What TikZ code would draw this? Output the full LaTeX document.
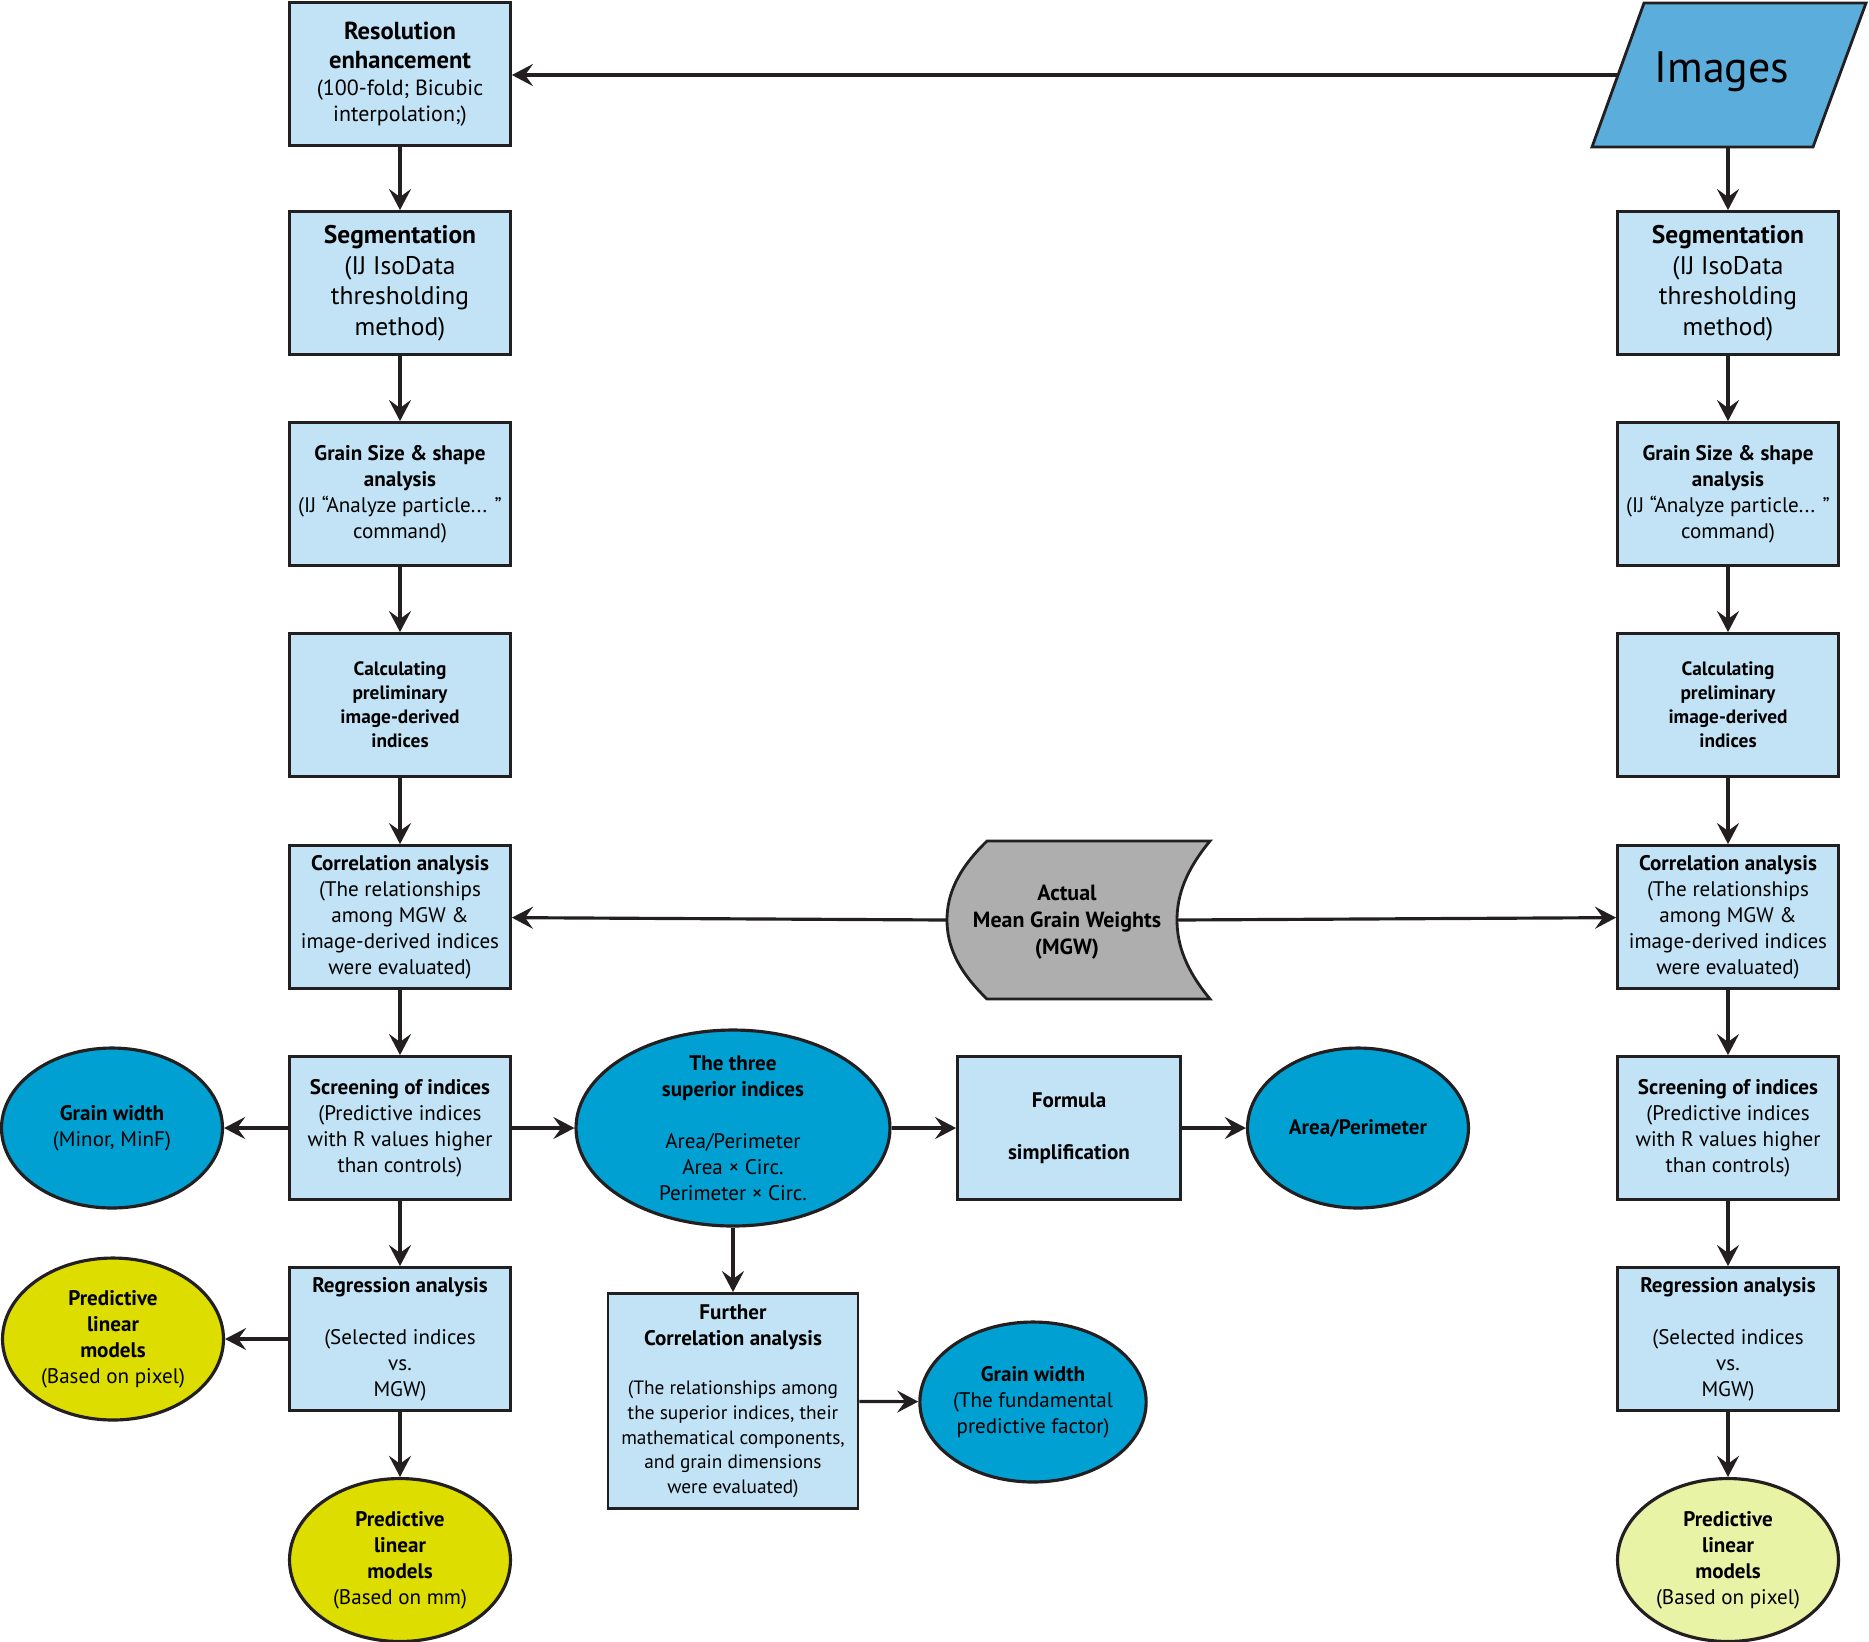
\documentclass[tikz,border=0pt]{standalone}
\usepackage{fontspec}
\setmainfont{PT Sans}
\usetikzlibrary{shapes.geometric, arrows.meta}

\definecolor{boxblue}{RGB}{193,227,245}
\definecolor{ovalblue}{RGB}{0,161,210}
\definecolor{imgblue}{RGB}{91,174,219}
\definecolor{darkyellow}{RGB}{221,221,0}
\definecolor{lightyellow}{RGB}{232,243,166}
\definecolor{mgwgray}{RGB}{174,174,174}
\definecolor{edge}{RGB}{35,31,32}

\begin{document}
\begin{tikzpicture}[x=0.02cm, y=-0.02cm,
    stepbox/.style={draw=edge, fill=boxblue, line width=1.6pt, minimum width=4.42cm, minimum height=2.86cm, align=center, inner sep=1pt, font=\fontsize{12}{14.8}\selectfont},
    oval/.style={draw=edge, ellipse, line width=1.8pt, minimum width=4.42cm, minimum height=3.2cm, align=center, inner sep=0pt, font=\fontsize{12}{14.8}\selectfont},
    blueoval/.style={oval, fill=ovalblue},
    yellowoval/.style={oval, fill=darkyellow},
    paleoval/.style={oval, fill=lightyellow},
    flow/.style={-{Stealth[length=12pt, width=12.5pt, inset=4.5pt]}, line width=1.8pt, draw=edge}]
    \useasboundingbox (0,0) rectangle (1869,1641);

    % Images
    \draw[draw=edge, fill=imgblue, line width=1.6pt] (1644,3) -- (1866,3) -- (1813,147) -- (1592,147) -- cycle;
    \node[font=\fontsize{25}{30}\selectfont] (images) at (1722,72) {Images};
    \coordinate (imgL) at (1618,75);
    \coordinate (imgB) at (1728,147);

    % Left column
    \node[stepbox, font=\fontsize{12.5}{15}\selectfont] (resL) at (400,74) {\textbf{\fontsize{14}{17}\selectfont Resolution}\\[2pt]\textbf{\fontsize{14}{17}\selectfont enhancement}\\(100-fold; Bicubic\\interpolation;)};
    \node[stepbox, font=\fontsize{14.5}{17.6}\selectfont, text depth=3pt] (segL) at (400,283) {\textbf{Segmentation}\\(IJ IsoData\\thresholding\\method)};
    \node[stepbox] (grainL) at (400,494) {\textbf{Grain Size \& shape}\\\textbf{analysis}\\(IJ “Analyze particle... ”\\command)};
    \node[stepbox, font=\fontsize{11}{13.7}\selectfont] (calcL) at (400,705) {\textbf{Calculating}\\\textbf{preliminary}\\\textbf{image-derived}\\\textbf{indices}};
    \node[stepbox] (corrL) at (400,917) {\textbf{Correlation analysis}\\(The relationships\\among MGW \&\\image-derived indices\\were evaluated)};
    \node[stepbox] (screenL) at (400,1128) {\textbf{Screening of indices}\\(Predictive indices\\with R values higher\\than controls)};
    \node[stepbox] (regrL) at (400,1339) {\textbf{Regression analysis}\\[14.8pt](Selected indices\\vs.\\MGW)};
    \node[yellowoval, minimum height=3.26cm] (predMM) at (400,1560) {\textbf{Predictive}\\\textbf{linear}\\\textbf{models}\\(Based on mm)};

    % Side results
    \node[blueoval] (gwL) at (112,1128) {\textbf{Grain width}\\(Minor, MinF)};
    \node[yellowoval, minimum height=3.24cm] (predPXL) at (113,1339) {\textbf{Predictive}\\\textbf{linear}\\\textbf{models}\\(Based on pixel)};
    \node[blueoval, minimum width=6.28cm, minimum height=3.92cm, inner ysep=-6pt] (three) at (733,1128) {\textbf{The three}\\\textbf{superior indices}\\[14.8pt]Area/Perimeter\\Area × Circ.\\Perimeter × Circ.};
    \node[stepbox, minimum width=4.46cm] (formula) at (1069,1128) {\textbf{Formula}\\[14.8pt]\textbf{simplification}};
    \node[blueoval] (areaPer) at (1358,1128) {\textbf{Area/Perimeter}};
    \node[stepbox, minimum width=5cm, minimum height=4.3cm, font=\fontsize{11}{14}\selectfont] (further) at (733,1401) {\textbf{\fontsize{12}{14.8}\selectfont Further}\\[1pt]\textbf{\fontsize{12}{14.8}\selectfont Correlation analysis}\\[14pt](The relationships among\\the superior indices, their\\mathematical components,\\and grain dimensions\\were evaluated)};
    \node[blueoval] (gwF) at (1033,1402) {\textbf{Grain width}\\(The fundamental\\predictive factor)};

    % Actual MGW
    \draw[draw=edge, fill=mgwgray, line width=1.6pt] (987,841) -- (1210,841)
        .. controls (1186,870) and (1177,895) .. (1177,920)
        .. controls (1177,945) and (1186,970) .. (1210,999) -- (987,999)
        .. controls (957,970) and (947,945) .. (947,920)
        .. controls (947,895) and (957,870) .. (987,841) -- cycle;
    \node[align=center, font=\fontsize{12.5}{15.2}\selectfont\bfseries] (mgw) at (1067,922) {Actual\\Mean Grain Weights\\(MGW)};
    \coordinate (mgwL) at (947,920);
    \coordinate (mgwR) at (1177,920);

    % Right column
    \node[stepbox, font=\fontsize{14.5}{17.6}\selectfont, text depth=3pt] (segR) at (1728,283) {\textbf{Segmentation}\\(IJ IsoData\\thresholding\\method)};
    \node[stepbox] (grainR) at (1728,494) {\textbf{Grain Size \& shape}\\\textbf{analysis}\\(IJ “Analyze particle... ”\\command)};
    \node[stepbox, font=\fontsize{11}{13.7}\selectfont] (calcR) at (1728,705) {\textbf{Calculating}\\\textbf{preliminary}\\\textbf{image-derived}\\\textbf{indices}};
    \node[stepbox] (corrR) at (1728,917) {\textbf{Correlation analysis}\\(The relationships\\among MGW \&\\image-derived indices\\were evaluated)};
    \node[stepbox] (screenR) at (1728,1128) {\textbf{Screening of indices}\\(Predictive indices\\with R values higher\\than controls)};
    \node[stepbox] (regrR) at (1728,1339) {\textbf{Regression analysis}\\[14.8pt](Selected indices\\vs.\\MGW)};
    \node[paleoval, minimum height=3.26cm] (predPXR) at (1728,1560) {\textbf{Predictive}\\\textbf{linear}\\\textbf{models}\\(Based on pixel)};

    % Connections
    \draw[flow] (imgL) -- (imgL -| resL.east);
    \draw[flow] (resL) -- (segL);
    \draw[flow] (segL) -- (grainL);
    \draw[flow] (grainL) -- (calcL);
    \draw[flow] (calcL) -- (corrL);
    \draw[flow] (corrL) -- (screenL);
    \draw[flow] (screenL) -- (regrL);
    \draw[flow] (regrL) -- (predMM);
    \draw[flow] (regrL) -- (predPXL);
    \draw[flow] (screenL) -- (gwL);
    \draw[flow] (screenL) -- (three);
    \draw[flow] (three) -- (formula);
    \draw[flow] (formula) -- (areaPer);
    \draw[flow] (three) -- (further);
    \draw[flow] (further) -- (gwF);
    \draw[flow] (mgwL) -- (corrL);
    \draw[flow] (mgwR) -- (corrR);
    \draw[flow] (imgB) -- (segR);
    \draw[flow] (segR) -- (grainR);
    \draw[flow] (grainR) -- (calcR);
    \draw[flow] (calcR) -- (corrR);
    \draw[flow] (corrR) -- (screenR);
    \draw[flow] (screenR) -- (regrR);
    \draw[flow] (regrR) -- (predPXR);
\end{tikzpicture}
\end{document}
